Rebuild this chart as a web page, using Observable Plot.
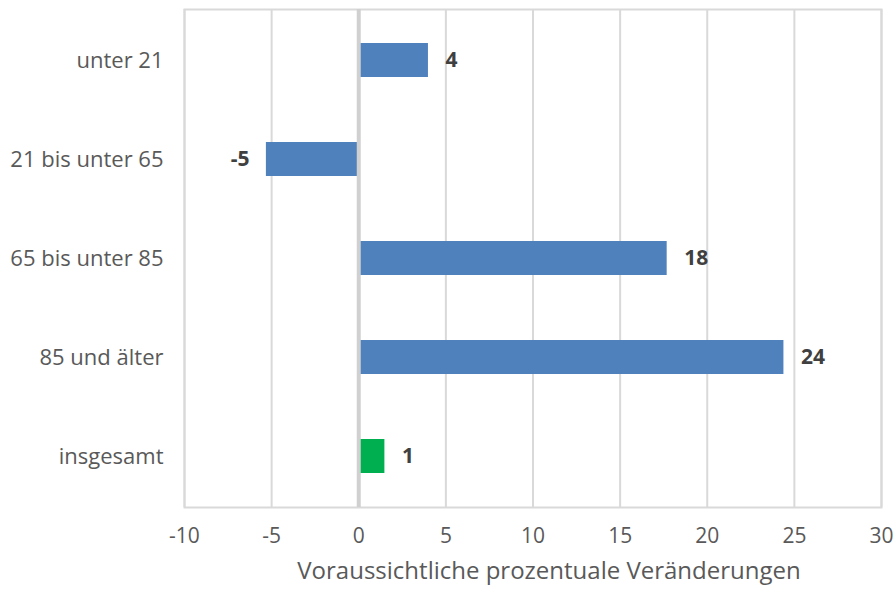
<!DOCTYPE html>
<html>
<head>
<meta charset="utf-8">
<script src="https://cdn.jsdelivr.net/npm/d3@7"></script>
<script src="https://cdn.jsdelivr.net/npm/@observablehq/plot@0.6"></script>
<style>
  html, body { margin: 0; padding: 0; background: #fff; }
  #chart { width: 896px; height: 590px; }
</style>
</head>
<body>
<div id="chart"></div>
<script>
const categories = ["unter 21", "21 bis unter 65", "65 bis unter 85", "85 und älter", "insgesamt"];
const values = [4.0, -5.3, 17.7, 24.4, 1.5];
const labels = ["4", "-5", "18", "24", "1"];
const colors = ["#4f81bd", "#4f81bd", "#4f81bd", "#4f81bd", "#00b050"];
const xTicks = [-10, -5, 0, 5, 10, 15, 20, 25, 30];
const axisTitle = "Voraussichtliche prozentuale Veränderungen";

const data = categories.map((c, i) => ({cat: c, v: values[i], label: labels[i], color: colors[i]}));
const font = "'Open Sans', 'Noto Sans', sans-serif";

const chart = Plot.plot({
  width: 896,
  height: 590,
  marginLeft: 184,
  marginRight: 15,
  marginTop: 9,
  marginBottom: 83,
  style: {fontFamily: font, fontSize: "21px", color: "#595959", background: "#fff"},
  x: {domain: [-10, 30], ticks: xTicks},
  y: {domain: categories, paddingInner: 0.66, paddingOuter: 0.33},
  marks: [
    Plot.gridX(xTicks, {stroke: "#d9d9d9", strokeOpacity: 1, strokeWidth: 2}),
    Plot.frame({stroke: "#d9d9d9", strokeWidth: 2}),
    Plot.barX(data, {x: "v", y: "cat", fill: "color"}),
    Plot.ruleX([0], {stroke: "#d0d0d0", strokeWidth: 4}),
    Plot.text(data.filter(d => d.v >= 0), {
      x: "v", y: "cat", text: "label", textAnchor: "start", dx: 17,
      fontWeight: "bold", fontSize: 21, fill: "#404040"
    }),
    Plot.text(data.filter(d => d.v < 0), {
      x: "v", y: "cat", text: "label", textAnchor: "end", dx: -17,
      fontWeight: "bold", fontSize: 21, fill: "#404040"
    }),
    Plot.axisX({ticks: xTicks, tickFormat: d => String(d), tickSize: 0, tickPadding: 21, fontSize: 21, fill: "#595959", label: null}),
    Plot.axisY({tickSize: 0, tickPadding: 21, fontSize: 22, fill: "#595959", label: null}),
    Plot.text([axisTitle], {frameAnchor: "bottom", dx: 16, dy: 71, fontSize: 24, fill: "#595959"})
  ]
});
document.getElementById("chart").appendChild(chart);
</script>
</body>
</html>
